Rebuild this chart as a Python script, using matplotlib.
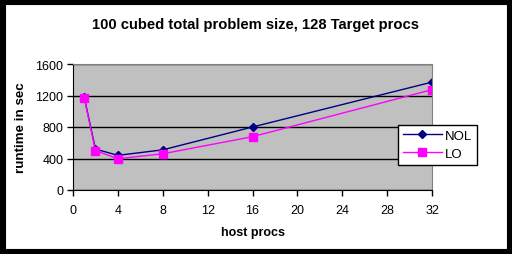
import matplotlib.pyplot as plt
from matplotlib.patches import Rectangle

host_procs = [1, 2, 4, 8, 16, 32]
nol = [1180, 520, 440, 510, 800, 1370]
lo = [1170, 500, 397, 460, 677, 1274]

plt.rcParams['font.family'] = ['Liberation Sans', 'DejaVu Sans']

fig = plt.figure(figsize=(5.12, 2.55), dpi=100)
fig.patches.append(Rectangle((0, 0), 1, 1, transform=fig.transFigure,
                             fill=False, edgecolor='black', linewidth=8))

ax = fig.add_axes([73 / 512, 1 - 191 / 255, 359 / 512, 126 / 255])
ax.set_facecolor('#c0c0c0')
ax.plot(host_procs, nol, color='#000080', marker='D', markersize=4, linewidth=1, label='NOL')
ax.plot(host_procs, lo, color='#ff00ff', marker='s', markersize=6, linewidth=1, label='LO')

ax.set_xlim(0, 32)
ax.set_ylim(0, 1600)
ax.set_xticks(range(0, 33, 4))
ax.set_yticks(range(0, 1601, 400))
ax.yaxis.grid(True, color='black', linewidth=1)
ax.set_axisbelow(True)
ax.tick_params(labelsize=9, length=4, width=1, color='black', pad=3)
ax.tick_params(axis='x', pad=6)
for s in ['top', 'right']:
    ax.spines[s].set_color('#808080')

fig.text(0.5, 1 - 25 / 255, '100 cubed total problem size, 128 Target procs',
         ha='center', va='center', fontsize=10.6, fontweight='bold')
fig.text(253 / 512, 1 - 233 / 255, 'host procs', ha='center', va='center',
         fontsize=9, fontweight='bold')
fig.text(21 / 512, 1 - 128 / 255, 'runtime in sec', ha='center', va='center',
         rotation=90, fontsize=9.6, fontweight='bold')

leg = ax.legend(loc='upper left', bbox_to_anchor=(398 / 512, 1 - 126 / 255),
                bbox_transform=fig.transFigure, fancybox=False, framealpha=1,
                edgecolor='black', fontsize=9.5, handlelength=3.0, borderpad=0.35,
                labelspacing=0.45, handletextpad=0.2, borderaxespad=0)
leg.get_frame().set_linewidth(1)

fig.savefig('out.png', dpi=100)
